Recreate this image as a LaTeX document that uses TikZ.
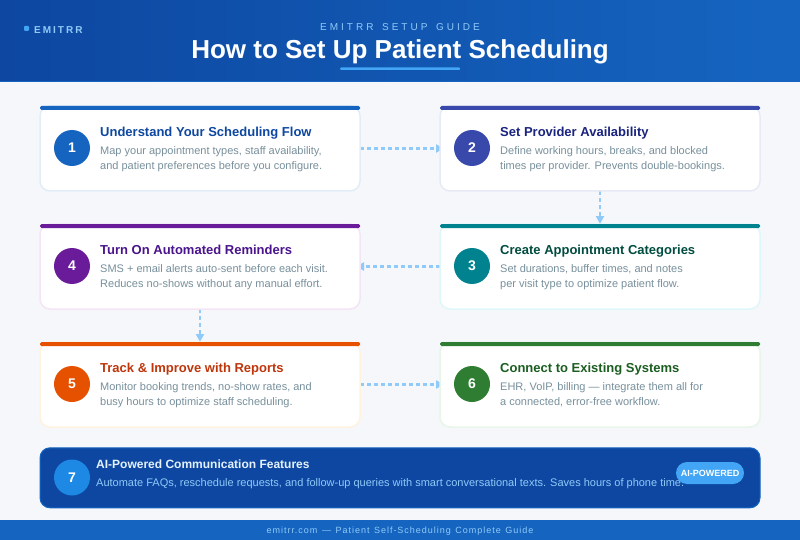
\documentclass[tikz,border=0pt]{standalone}
\usepackage{fontspec}
\setmainfont{Liberation Sans}
\newfontfamily\spacedwide[LetterSpace=30,WordSpace=1.5]{Liberation Sans}
\newfontfamily\spacedlogo[LetterSpace=20]{Liberation Sans}
\newfontfamily\spacedfoot[LetterSpace=11,WordSpace=1.3]{Liberation Sans}
\usetikzlibrary{arrows.meta}
\definecolor{pagebg}{HTML}{F5F7FB}
\definecolor{navy}{HTML}{0D47A1}
\definecolor{midblue}{HTML}{1565C0}
\definecolor{skyblue}{HTML}{90CAF9}
\definecolor{brightblue}{HTML}{42A5F5}
\definecolor{bannerblue}{HTML}{1E88E5}
\definecolor{bannertitle}{HTML}{E3F2FD}
\definecolor{descgray}{HTML}{78909C}
\definecolor{indigomain}{HTML}{3949AB}
\definecolor{indigodark}{HTML}{1A237E}
\definecolor{indigoedge}{HTML}{E8EAF6}
\definecolor{tealmain}{HTML}{00838F}
\definecolor{tealdark}{HTML}{004D40}
\definecolor{tealedge}{HTML}{E0F7FA}
\definecolor{violetmain}{HTML}{6A1B9A}
\definecolor{violetdark}{HTML}{4A148C}
\definecolor{violetedge}{HTML}{F3E5F5}
\definecolor{orangemain}{HTML}{E65100}
\definecolor{orangedark}{HTML}{BF360C}
\definecolor{orangeedge}{HTML}{FFF3E0}
\definecolor{greenmain}{HTML}{2E7D32}
\definecolor{greendark}{HTML}{1B5E20}
\definecolor{greenedge}{HTML}{E8F5E9}
\pgfdeclarelayer{back}
\pgfsetlayers{back,main}
\tikzset{
  card/.style={draw=#1, fill=white, line width=1.5pt, rounded corners=10pt, minimum width=320pt,
    minimum height=85pt, anchor=north west, inner sep=0pt, outer sep=0pt},
  badge/.style={circle, fill=#1, minimum size=36pt, inner sep=0pt, text=white, font=\fontsize{14}{14}\selectfont\bfseries},
  cardtitle/.style={anchor=base west, inner sep=0pt, text=#1, font=\fontsize{13}{15}\selectfont\bfseries},
  carddesc/.style={anchor=base west, inner sep=0pt, text=descgray, font=\fontsize{11}{15}\selectfont},
  flow/.style={draw=skyblue, line width=2.1pt, dash pattern=on 4pt off 3pt, -{Triangle[width=8pt,length=8pt]}},
}
\begin{document}
\begin{tikzpicture}[x=1pt,y=-1pt]
  \useasboundingbox (0,0) rectangle (800,540);

  %header
  \shade[left color=navy, right color=midblue] (0,0) rectangle (800,81);
  \fill[midblue] (0,81) rectangle (800,82);
  \fill[brightblue, rounded corners=1pt] (24,26) rectangle (29,31);
  \node[anchor=base west, inner sep=0pt, text=skyblue, font=\fontsize{10}{10}\spacedlogo\bfseries] (logo) at (34,33.5) {EMITRR};
  \node[anchor=base, inner sep=0pt, text=skyblue, font=\fontsize{10}{10}\spacedwide] (kicker) at (400,30.5) {EMITRR SETUP GUIDE};
  \node[anchor=base, inner sep=0pt, text=white, font=\fontsize{26}{26}\selectfont\bfseries] (title) at (400,58.5) {How to Set Up Patient Scheduling};
  \fill[brightblue, rounded corners=1pt] (340,67.5) rectangle (460,70);

  %cards
  \node[card=midblue!12] (c1) at (40,106) {};
  \node[card=indigoedge] (c2) at (440,106) {};
  \node[card=tealedge] (c3) at (440,224) {};
  \node[card=violetedge] (c4) at (40,224) {};
  \node[card=orangeedge] (c5) at (40,342) {};
  \node[card=greenedge] (c6) at (440,342) {};

  %top stripes
  \fill[midblue, rounded corners=1.5pt] (40,106) rectangle (360,110);
  \fill[indigomain, rounded corners=1.5pt] (440,106) rectangle (760,110);
  \fill[tealmain, rounded corners=1.5pt] (440,224) rectangle (760,228);
  \fill[violetmain, rounded corners=1.5pt] (40,224) rectangle (360,228);
  \fill[orangemain, rounded corners=1.5pt] (40,342) rectangle (360,346);
  \fill[greenmain, rounded corners=1.5pt] (440,342) rectangle (760,346);

  %numbers
  \node[badge=midblue] (n1) at (72,148) {1};
  \node[badge=indigomain] (n2) at (472,148) {2};
  \node[badge=tealmain] (n3) at (472,266) {3};
  \node[badge=violetmain] (n4) at (72,266) {4};
  \node[badge=orangemain] (n5) at (72,384) {5};
  \node[badge=greenmain] (n6) at (472,384) {6};

  %texts
  \node[cardtitle=navy] (t1) at (100,136.3) {Understand Your Scheduling Flow};
  \node[carddesc] (d1a) at (100,154.3) {Map your appointment types, staff availability,};
  \node[carddesc] (d1b) at (100,169.3) {and patient preferences before you configure.};
  \node[cardtitle=indigodark] (t2) at (500,136.3) {Set Provider Availability};
  \node[carddesc] (d2a) at (500,154.3) {Define working hours, breaks, and blocked};
  \node[carddesc] (d2b) at (500,169.3) {times per provider. Prevents double-bookings.};
  \node[cardtitle=tealdark] (t3) at (500,254) {Create Appointment Categories};
  \node[carddesc] (d3a) at (500,272) {Set durations, buffer times, and notes};
  \node[carddesc] (d3b) at (500,287) {per visit type to optimize patient flow.};
  \node[cardtitle=violetdark] (t4) at (100,254) {Turn On Automated Reminders};
  \node[carddesc] (d4a) at (100,272) {SMS + email alerts auto-sent before each visit.};
  \node[carddesc] (d4b) at (100,287) {Reduces no-shows without any manual effort.};
  \node[cardtitle=orangedark] (t5) at (100,372) {Track \& Improve with Reports};
  \node[carddesc] (d5a) at (100,390) {Monitor booking trends, no-show rates, and};
  \node[carddesc] (d5b) at (100,405) {busy hours to optimize staff scheduling.};
  \node[cardtitle=greendark] (t6) at (500,372) {Connect to Existing Systems};
  \node[carddesc] (d6a) at (500,390) {EHR, VoIP, billing — integrate them all for};
  \node[carddesc] (d6b) at (500,405) {a connected, error-free workflow.};

  %arrows, their tips go under the cards
  \begin{pgfonlayer}{back}
    \fill[pagebg] (0,0) rectangle (800,540);
    \draw[flow] (c1.east) -- ([xshift=4pt]c2.west);
    \draw[flow] (c2.south) -- (c3.north);
    \draw[flow] (c3.west) -- ([xshift=-4pt]c4.east);
    \draw[flow] (c4.south) -- (c5.north);
    \draw[flow] (c5.east) -- ([xshift=4pt]c6.west);
  \end{pgfonlayer}

  %banner
  \node[draw=midblue, fill=navy, line width=1pt, rounded corners=10pt, minimum width=720pt, minimum height=60pt,
    anchor=north west, inner sep=0pt, outer sep=0pt] (c7) at (40,447.8) {};
  \node[badge=bannerblue] (n7) at (72,477.5) {7};
  \node[anchor=base west, inner sep=0pt, text=bannertitle, font=\fontsize{12}{14}\selectfont\bfseries] (t7) at (96,468) {AI-Powered Communication Features};
  \node[anchor=base west, inner sep=0pt, text=skyblue, font=\fontsize{11}{14}\selectfont] (d7) at (96,486) {Automate FAQs, reschedule requests, and follow-up queries with smart conversational texts. Saves hours of phone time.};
  \node[fill=brightblue, rounded corners=11pt, minimum width=68pt, minimum height=22pt, inner sep=0pt, text=white,
    font=\fontsize{9}{9}\selectfont\bfseries] (pill) at (710,473) {AI-POWERED};

  %footer
  \fill[midblue] (0,519.5) rectangle (800,540);
  \node[anchor=base, inner sep=0pt, text=skyblue, font=\fontsize{9}{9}\spacedfoot] (foot) at (400,533) {emitrr.com — Patient Self-Scheduling Complete Guide};
\end{tikzpicture}
\end{document}
